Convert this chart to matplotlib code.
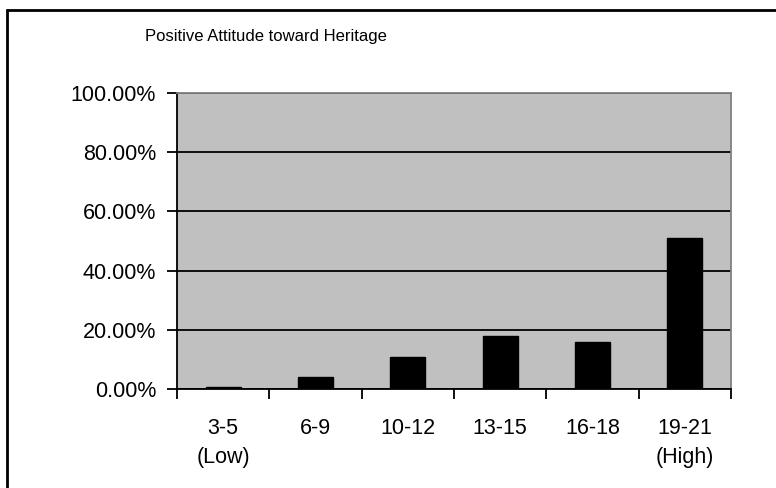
import matplotlib.pyplot as plt
from matplotlib.patches import Rectangle
from matplotlib.ticker import FuncFormatter

# score ranges and share of respondents in each (percent)
categories = ['3-5\n(Low)', '6-9', '10-12', '13-15', '16-18', '19-21\n(High)']
shares = [0.8, 3.9, 10.9, 17.9, 16.0, 50.9]

plt.rcParams['font.family'] = ['Liberation Sans', 'DejaVu Sans']

fig = plt.figure(figsize=(7.76, 4.88), dpi=100)
ax = fig.add_axes([0.228, 0.203, 0.714, 0.606])
ax.set_facecolor('#C0C0C0')

x = range(len(categories))
ax.bar(x, shares, width=0.38, color='black', edgecolor='black', zorder=3)

ax.set_xlim(-0.5, len(categories) - 0.5)
ax.set_ylim(0, 100)
ax.set_yticks([0, 20, 40, 60, 80, 100])
ax.yaxis.set_major_formatter(FuncFormatter(lambda v, p: '%.2f%%' % v))
ax.yaxis.grid(True, color='black', linewidth=1.3, zorder=1)

# labels centred under bars, tick marks between categories
ax.set_xticks(list(x))
ax.set_xticklabels(categories, linespacing=1.5)
ax.set_xticks([i - 0.5 for i in range(len(categories) + 1)], minor=True)
ax.tick_params(axis='x', which='major', length=0, pad=21, labelsize=15.5)
ax.tick_params(axis='x', which='minor', length=7, width=1.3, direction='out')
ax.tick_params(axis='y', length=7, width=1.3, direction='out', pad=8, labelsize=15.5)

for s in ax.spines.values():
    s.set_linewidth(1.3)
    s.set_color('black')
ax.spines['right'].set_color('#808080')
ax.spines['top'].set_color('#808080')

fig.text(0.343, 0.925, 'Positive Attitude toward Heritage',
         ha='center', va='center', fontsize=12)

# chart frame
fig.patches.append(Rectangle((7 / 776, -0.05), 1.1, 0.05 + 1 - 10 / 488,
                             transform=fig.transFigure, fill=False,
                             edgecolor='black', linewidth=2))

fig.savefig('out.png', dpi=100)
